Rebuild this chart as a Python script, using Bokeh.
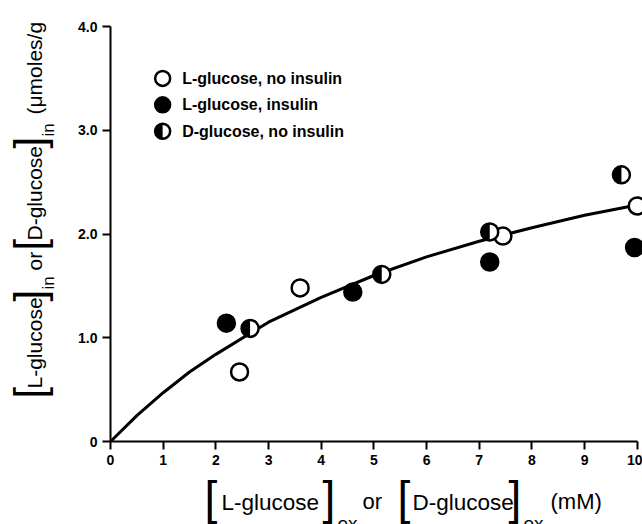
import numpy as np
from bokeh.plotting import figure
from bokeh.layouts import row, column
from bokeh.models import Range1d, FixedTicker
from bokeh.core.properties import value
from bokeh.embed import file_html
from bokeh.resources import INLINE

# L-glucose, no insulin (open circles)
open_x = [2.45, 3.6, 7.45, 10.0]
open_y = [0.67, 1.48, 1.98, 2.27]

# L-glucose, insulin (filled circles)
fill_x = [2.2, 4.6, 7.2, 9.95]
fill_y = [1.14, 1.44, 1.73, 1.87]

# D-glucose, no insulin (half-filled circles)
half_x = [2.65, 5.15, 7.2, 9.7]
half_y = [1.09, 1.61, 2.02, 2.57]

# fitted saturation curve
curve_x = [0, 0.5, 1, 1.5, 2, 3, 4, 5, 6, 7, 8, 9, 10]
curve_y = [0, 0.25, 0.47, 0.67, 0.84, 1.15, 1.39, 1.60, 1.78, 1.93, 2.06, 2.18, 2.28]

series_names = ["L-glucose, no insulin", "L-glucose, insulin", "D-glucose, no insulin"]

x_ticks = [0, 1, 2, 3, 4, 5, 6, 7, 8, 9, 10]
y_ticks = [0, 1, 2, 3, 4]
y_tick_labels = ["0", "1.0", "2.0", "3.0", "4.0"]

FONT = "Liberation Sans"
W, H = 642, 524
YL_W = 60          # strip holding the vertical title
XL_H = 50          # strip holding the horizontal title
MAIN_W, MAIN_H = W - YL_W, H - XL_H
FRAME_L = 110      # page x of the plot frame's left edge
BORDER_L = FRAME_L - YL_W

# ---------------------------------------------------------------- main plot
p = figure(width=MAIN_W, height=MAIN_H, output_backend="svg", toolbar_location=None,
           x_range=Range1d(0, 10.1), y_range=Range1d(0, 4.0),
           min_border_left=BORDER_L, min_border_right=0, min_border_top=26,
           min_border_bottom=MAIN_H - 441)
p.outline_line_color = None
p.xgrid.visible = False
p.ygrid.visible = False

for ax in (p.xaxis[0], p.yaxis[0]):
    ax.axis_line_width = 2
    ax.axis_line_color = "black"
    ax.major_tick_line_width = 2
    ax.major_tick_out = 8
    ax.major_tick_in = 0
    ax.minor_tick_out = 0
    ax.minor_tick_in = 0
    ax.major_label_text_font = FONT
    ax.major_label_text_font_style = "bold"
    ax.major_label_text_font_size = "14px"
    ax.major_label_text_color = "black"
    ax.major_label_standoff = 5

p.xaxis.ticker = FixedTicker(ticks=x_ticks)
p.xaxis.bounds = (0, 10)
p.yaxis.ticker = FixedTicker(ticks=y_ticks)
p.yaxis.bounds = (0, 4)
p.yaxis.major_label_overrides = {t: s for t, s in zip(y_ticks, y_tick_labels)}

# curve first so the markers sit on top of it
p.line(curve_x, curve_y, line_width=3, line_color="black")

MS = 17
p.scatter(open_x, open_y, marker="circle", size=MS, fill_color="white",
          line_color="black", line_width=2.5)
p.scatter(fill_x, fill_y, marker="circle", size=MS, fill_color="black",
          line_color="black", line_width=2.5)
p.scatter(half_x, half_y, marker="circle", size=MS, fill_color="white",
          line_color="black", line_width=2.5)
p.wedge(half_x, half_y, radius=9, radius_units="screen",
        start_angle=np.pi / 2, end_angle=3 * np.pi / 2,
        fill_color="black", line_color=None)

# key in the upper left corner
key_x = 0.99
key_y = [3.50, 3.245, 2.99]
key_text_x = 1.36
LS = 15
p.scatter([key_x], [key_y[0]], marker="circle", size=LS, fill_color="white",
          line_color="black", line_width=2.5)
p.scatter([key_x], [key_y[1]], marker="circle", size=LS, fill_color="black",
          line_color="black", line_width=2.5)
p.scatter([key_x], [key_y[2]], marker="circle", size=LS, fill_color="white",
          line_color="black", line_width=2.5)
p.wedge([key_x], [key_y[2]], radius=8, radius_units="screen",
        start_angle=np.pi / 2, end_angle=3 * np.pi / 2,
        fill_color="black", line_color=None)
p.text([key_text_x] * 3, key_y, text=series_names, text_font=value(FONT),
       text_font_style="bold", text_font_size="16px", text_baseline="middle",
       text_align="left", text_color="black")


# ------------------------------------------------------- title strips
def strip(w, h, x0, x1, y0, y1, left=0):
    f = figure(width=w, height=h, output_backend="svg", toolbar_location=None,
               x_range=Range1d(x0, x1), y_range=Range1d(y0, y1),
               x_axis_type=None, y_axis_type=None, min_border=0,
               min_border_left=left, min_border_right=0)
    f.outline_line_color = None
    f.grid.visible = False
    return f


# offset between the requested baseline and where the glyphs land, per px of size
SHIFT = 0.42


def piece(f, text, x, y, size, angle=0.0):
    f.text([x], [y], text=[text], text_font=value(FONT),
           text_font_size=value(f"{size}px"), angle=angle,
           text_align="left", text_baseline="alphabetic", text_color="black")


# horizontal title: its frame shares the main frame's left/right edges
# (page x 110..642); page y 474..524
xl = strip(MAIN_W, XL_H, FRAME_L, W, 0, XL_H, left=BORDER_L)


def xp(text, cx, cy, size):
    piece(xl, text, cx, H - (cy - SHIFT * size), size)


xp("[", 204, 517, 46)
xp("L-glucose", 221, 511, 22.5)
xp("]", 322, 517, 46)
xp("ex", 337, 531, 19)
xp("or", 362, 510, 22)
xp("[", 397, 517, 46)
xp("D-glucose", 412, 511, 22.5)
xp("]", 508, 517, 46)
xp("ex", 523, 531, 19)
xp("(mM)", 550, 510, 22)

# vertical title, reading upward: page x 0..60
yl = strip(YL_W, H, 0, YL_W, 0, H)
A = np.pi / 2


def yp(text, cx, cy, size):
    piece(yl, text, cx - SHIFT * size, H - cy, size, A)


yp("[", 47, 398, 42)
yp("L-glucose", 43, 388, 21)
yp("]", 47, 301, 42)
yp("in", 55, 289, 17)
yp("or", 43, 270, 21)
yp("[", 47, 250, 42)
yp("D-glucose", 43, 240, 21)
yp("]", 47, 148, 42)
yp("in", 55, 136, 17)
yp("(\u03bcmoles/g", 43, 114, 21)

page = row(yl, column(p, xl, spacing=0), spacing=0)

open("out.html", "w").write(file_html(page, INLINE))
